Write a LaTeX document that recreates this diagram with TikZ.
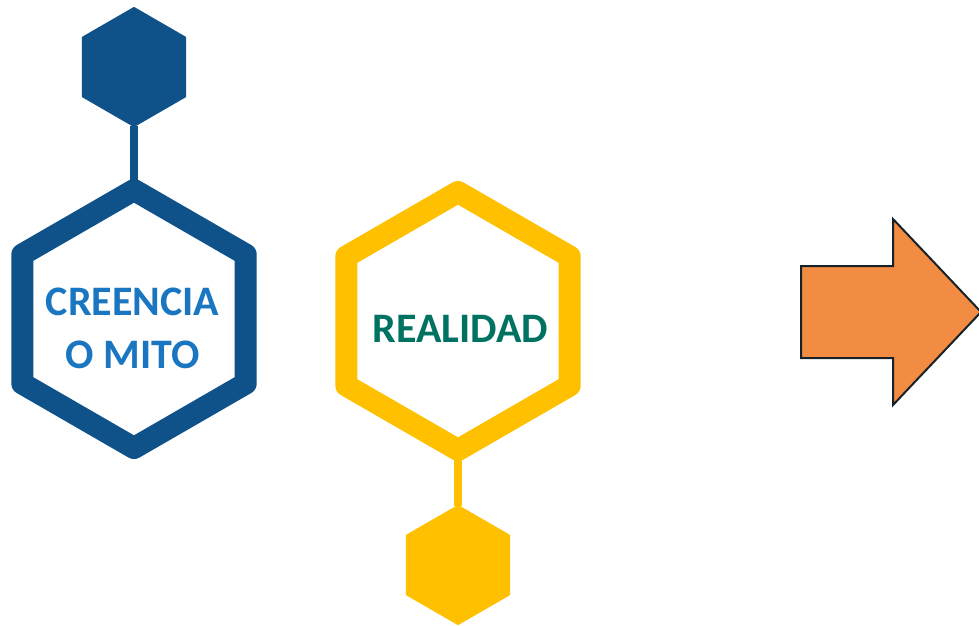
\documentclass[tikz,border=0pt]{standalone}
\usepackage{fontspec}
\setmainfont{Carlito}
\usetikzlibrary{shapes.geometric}
\definecolor{hexblue}{RGB}{15,82,138}
\definecolor{hexyellow}{RGB}{255,192,0}
\definecolor{txtblue}{RGB}{26,118,192}
\definecolor{txtteal}{RGB}{0,114,98}
\definecolor{arroworange}{RGB}{242,140,66}
\definecolor{arrowedge}{RGB}{22,34,40}
\tikzset{
  hexbase/.style={regular polygon, regular polygon sides=6, shape border rotate=30, inner sep=0pt, outer sep=0pt, line join=round},
  smallhex/.style={hexbase, minimum size=118pt, fill=#1, draw=#1, line width=2pt},
  bighex/.style={hexbase, minimum size=258pt, fill=white, draw=#1, line width=22pt},
  link/.style={line width=8pt, draw=#1},
  lbl/.style={font=\bfseries\fontsize{42}{50}\selectfont, text=#1, anchor=base, inner sep=0pt}
}
\begin{document}
\begin{tikzpicture}[x=1pt,y=-1pt]
\useasboundingbox (0,0) rectangle (979,625);
% blue group
\node[smallhex=hexblue] (bs) at (134,67) {};
\node[bighex=hexblue] (bb) at (134,319) {};
\draw[link=hexblue] (bs.corner 4) -- (bb.corner 1);
\node[lbl=txtblue] (t1) at (132.5,315) {CREENCIA};
\node[lbl=txtblue] (t2) at (132.5,368) {O MITO};
% yellow group
\node[bighex=hexyellow] (yb) at (458,321) {};
\node[smallhex=hexyellow] (ys) at (458,565) {};
\draw[link=hexyellow] (yb.corner 4) -- (ys.corner 1);
\node[lbl=txtteal] (t3) at (460.5,342) {REALIDAD};
% arrow
\draw[fill=arroworange, draw=arrowedge, line width=2pt, line join=miter]
  (801,266) -- (893,266) -- (893,219) -- (981,312) -- (893,405) -- (893,358) -- (801,358) -- cycle;
\end{tikzpicture}
\end{document}
